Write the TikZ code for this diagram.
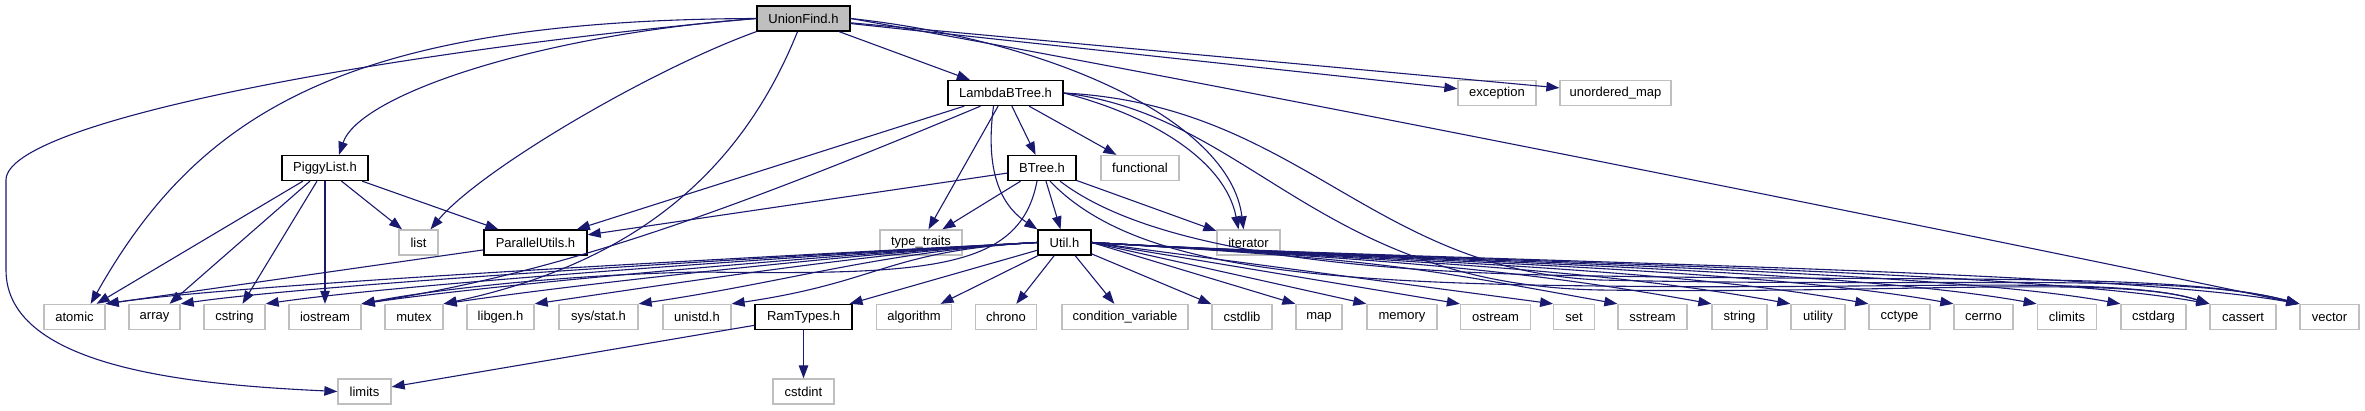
\documentclass[tikz,border=0pt]{standalone}
\usepackage{fontspec}
\setmainfont{Liberation Sans}
\usetikzlibrary{arrows.meta}
\definecolor{edgeblue}{RGB}{25,25,112}
\definecolor{boxgray}{RGB}{191,191,191}

\begin{document}
\begin{tikzpicture}[x=1pt, y=-1pt,
  sysinc/.style={draw=boxgray, line width=1.3pt, fill=white, minimum height=25pt,
    inner xsep=2pt, inner ysep=0pt, font=\fontsize{13}{15}\selectfont},
  projinc/.style={sysinc, draw=black},
  rootinc/.style={projinc, fill=boxgray},
  incl/.style={draw=edgeblue, line width=1.1pt, -{Triangle[length=13pt,width=9.5pt]}},
]
\fill[white] (0,0) rectangle (2365,411);
\useasboundingbox (0,0) rectangle (2365,411);

% headers of the project
\node[rootinc, minimum width=93pt] (uf) at (803.5,18.5) {UnionFind.h};
\node[projinc, minimum width=115pt] (lbt) at (1005.5,93) {LambdaBTree.h};
\node[projinc, minimum width=86pt] (piggy) at (325,168) {PiggyList.h};
\node[projinc, minimum width=68pt] (btree) at (1042,168) {BTree.h};
\node[projinc, minimum width=103pt] (putils) at (535.5,242.5) {ParallelUtils.h};
\node[projinc, minimum width=53pt] (util) at (1064.5,242.5) {Util.h};
\node[projinc, minimum width=97pt] (ramtypes) at (803.5,317) {RamTypes.h};

% system headers
\node[sysinc, minimum width=78pt] (exception) at (1497,93) {exception};
\node[sysinc, minimum width=111pt] (umap) at (1615.5,93) {unordered\_map};
\node[sysinc, minimum width=78pt] (functional) at (1140,168) {functional};
\node[sysinc, minimum width=39pt] (list) at (418.5,242.5) {list};
\node[sysinc, minimum width=82pt] (typetraits) at (921,242.5) {type\_traits};
\node[sysinc, minimum width=63pt] (iterator) at (1248.5,242.5) {iterator};
\node[sysinc, minimum width=67pt] (libgen) at (500.5,317) {libgen.h};
\node[sysinc, minimum width=79pt] (sysstat) at (598.5,317) {sys/stat.h};
\node[sysinc, minimum width=68pt] (unistd) at (697,317) {unistd.h};
\node[sysinc, minimum width=126pt] (condvar) at (1125,317) {condition\_variable};
\foreach \n/\x/\w in {atomic/74.5/61, array/154.5/51, cstring/234.5/61,
    iostream/325/72, mutex/414/58, algorithm/914/74.5,
    chrono/1006/61, cstdlib/1242/60, map/1319/46, memory/1402/70,
    ostream/1495.5/70, set/1574/40.5, sstream/1652.5/69, string/1739.5/55,
    utility/1818/54, cctype/1899.5/61, cerrno/1983.5/59, climits/2067/59.5,
    cstdarg/2153.5/65, cassert/2243/66, vector/2329.5/59}
  \node[sysinc, minimum width=\w pt] (\n) at (\x,317) {\n};
\node[sysinc, minimum width=53pt] (limits) at (364.5,391.5) {limits};
\node[sysinc, minimum width=61pt] (cstdint) at (803.5,391.5) {cstdint};

% UnionFind.h
\draw[incl] (uf.west) .. controls (400,50) and (6,120) .. (6,180) -- (6,270)
  .. controls (6,370) and (200,385) .. (limits.west);
\draw[incl] (uf.west) .. controls (350,20) and (200,110) .. ([xshift=-15pt]atomic.north east);
\draw[incl] (uf.west) .. controls (537,35) and (359,95) .. ([xshift=14pt]piggy.north);
\draw[incl] (uf.south west) .. controls (650,70) and (480,170) .. ([xshift=12pt]list.north);
\draw[incl] ([xshift=-6pt]uf.south) .. controls (730,200) and (600,270) .. (mutex.north east);
\draw[incl] (uf) -- (lbt);
\draw[incl] (uf.east) .. controls (1050,40) and (1230,120) .. ([xshift=-5pt]iterator.north);
\draw[incl] (uf) -- (exception);
\draw[incl] (uf) -- (umap);
\draw[incl] (uf.east) .. controls (1200,80) and (1900,220) .. (vector.north west);

% LambdaBTree.h
\draw[incl] (lbt) -- (putils);
\draw[incl] ([xshift=-25pt]lbt.south) .. controls (720,215) and (560,272) .. (iostream.north east);
\draw[incl] (lbt) -- (typetraits);
\draw[incl] ([xshift=-12pt]lbt.south) .. controls (985,170) and (1000,205) .. (util.north west);
\draw[incl] (lbt) -- (btree);
\draw[incl] (lbt) -- (functional);
\draw[incl] (lbt.east) .. controls (1150,115) and (1225,160) .. ([xshift=-10pt]iterator.north);
\draw[incl] (lbt.east) .. controls (1250,115) and (1320,285) .. (1600,290)
  .. controls (1900,294) and (2120,275) .. (cassert.north west);
\draw[incl] (lbt.east) .. controls (1300,105) and (1370,270) .. (1600,280)
  .. controls (1950,288) and (2180,272) .. (vector.north west);

% BTree.h
\draw[incl] (btree) -- (putils);
\draw[incl] (btree) -- (typetraits);
\draw[incl] ([xshift=-5pt]btree.south) .. controls (1020,270) and (930,275) .. (700,272)
  .. controls (550,275) and (420,292) .. (iostream.north east);
\draw[incl] (btree) -- (util);
\draw[incl] (btree) -- (iterator);
\draw[incl] ([xshift=8pt]btree.south) .. controls (1130,265) and (1300,283) .. (1600,286)
  .. controls (1900,290) and (2120,275) .. (cassert.north west);
\draw[incl] ([xshift=18pt]btree.south) .. controls (1150,250) and (1350,273) .. (1600,276)
  .. controls (1950,282) and (2180,272) .. (vector.north west);

% Util.h
\foreach \t in {atomic,array,cstring,iostream,mutex,libgen,sysstat,unistd}
  \draw[incl] (util.west) .. controls +(-150,8) and +(150,-22) .. (\t.north east);
\foreach \t in {ramtypes,algorithm,chrono,condvar,cstdlib}
  \draw[incl] (util) -- (\t);
\foreach \t in {map,memory,ostream,set}
  \draw[incl] (util.east) -- (\t.north west);
\foreach \t in {sstream,string,utility,cctype,cerrno,climits,cstdarg,cassert,vector}
  \draw[incl] (util.east) .. controls +(300,18) and +(-200,-36) .. (\t.north west);

% PiggyList.h
\foreach \t in {atomic,array,cstring,iostream,list,putils}
  \draw[incl] (piggy) -- (\t);

% ParallelUtils.h and RamTypes.h
\draw[incl] (putils) -- (atomic.north east);
\draw[incl] (ramtypes) -- (limits);
\draw[incl] (ramtypes) -- (cstdint);
\end{tikzpicture}
\end{document}
